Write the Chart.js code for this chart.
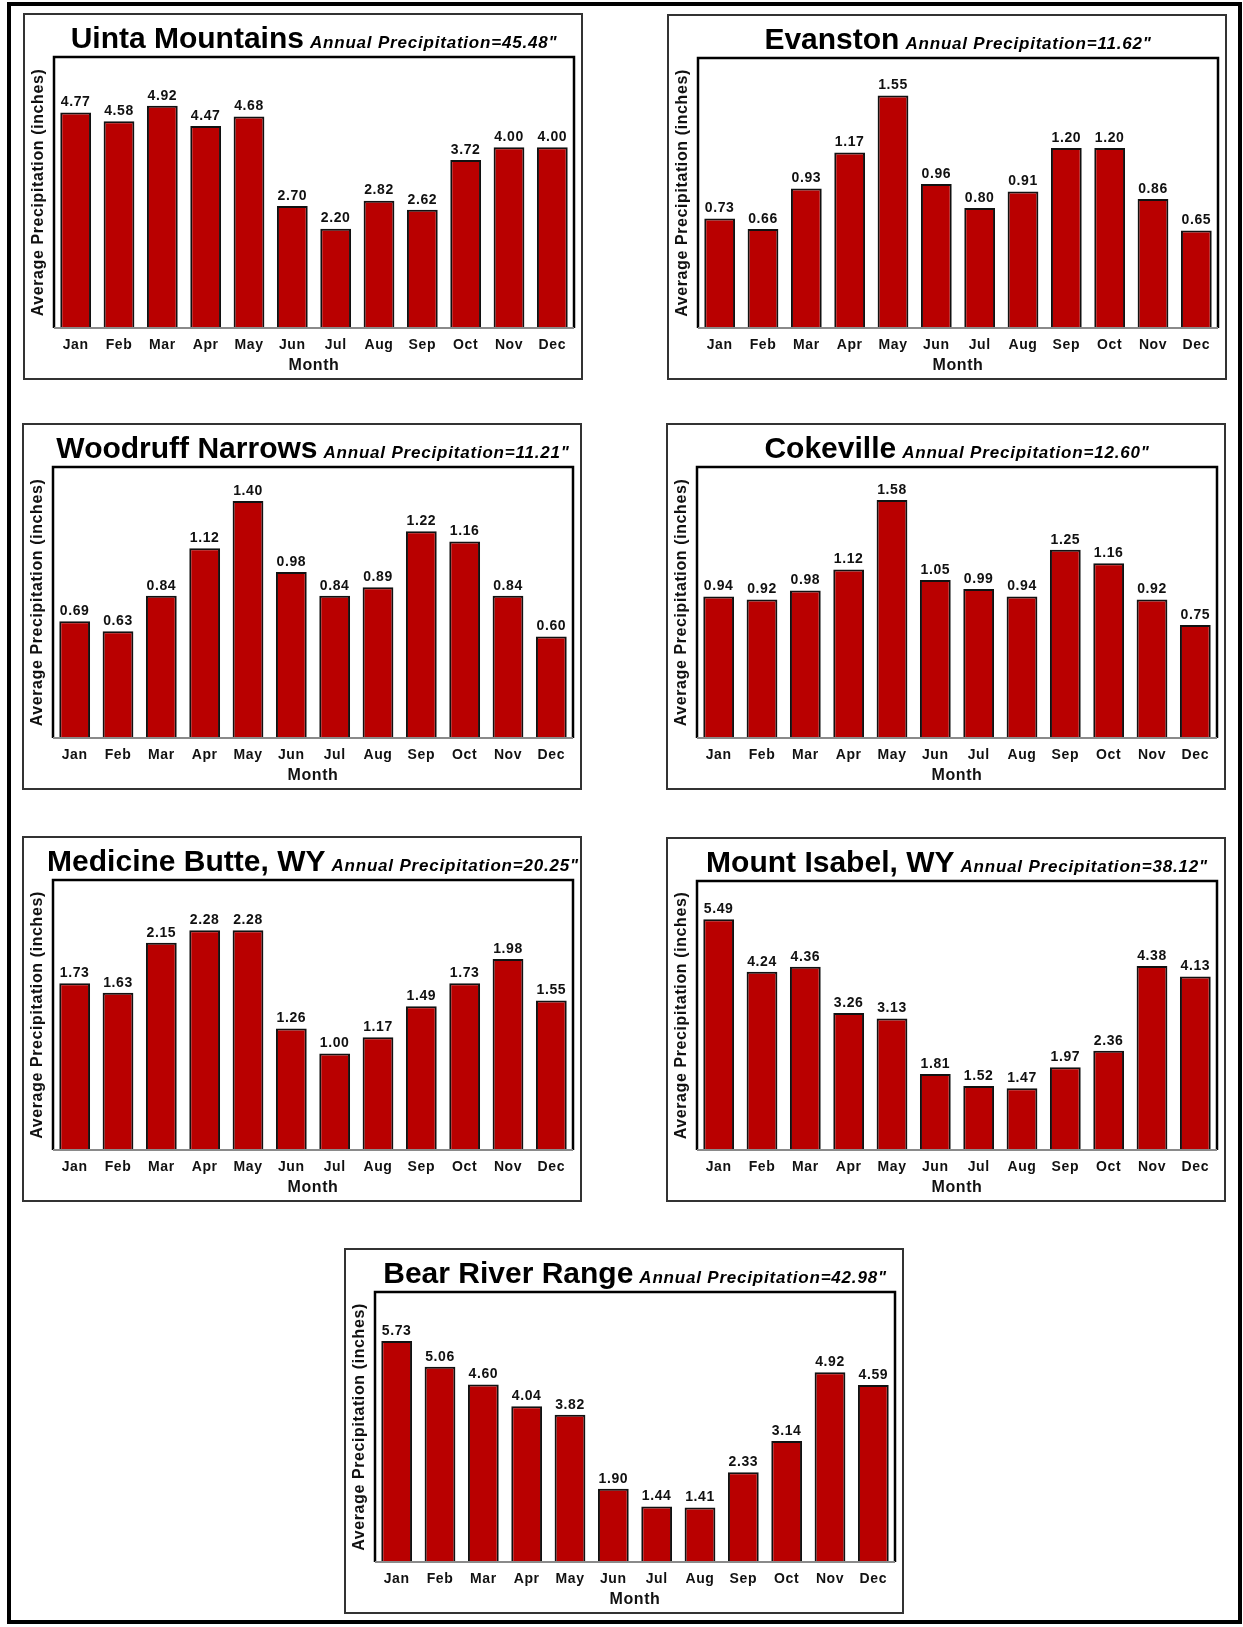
<!DOCTYPE html>
<html>
<head>
<meta charset="utf-8">
<script src="https://cdn.jsdelivr.net/npm/chart.js@4.4.1/dist/chart.umd.min.js"></script>
<style>
    body { margin: 0; background: #fff; }
    #page { position: relative; width: 1243px; height: 1627px; overflow: hidden; }
    #frame { position: absolute; left: 7px; top: 2px; width: 1235px; height: 1622px; border: 4px solid #000; box-sizing: border-box; }
    .panel { position: absolute; }
    .panel canvas { display: block; }
</style>
</head>
<body>
<div id="page">
    <div id="frame"></div>
</div>
<script>
// Average monthly precipitation (inches) per station
const months = ['Jan', 'Feb', 'Mar', 'Apr', 'May', 'Jun', 'Jul', 'Aug', 'Sep', 'Oct', 'Nov', 'Dec']

const stations = ['Uinta Mountains', 'Evanston', 'Woodruff Narrows', 'Cokeville', 'Medicine Butte, WY', 'Mount Isabel, WY', 'Bear River Range']
const annualTotals = ['45.48', '11.62', '11.21', '12.60', '20.25', '38.12', '42.98']

const uinta = [4.77, 4.58, 4.92, 4.47, 4.68, 2.70, 2.20, 2.82, 2.62, 3.72, 4.00, 4.00]
const evanston = [0.73, 0.66, 0.93, 1.17, 1.55, 0.96, 0.80, 0.91, 1.20, 1.20, 0.86, 0.65]
const woodruff = [0.69, 0.63, 0.84, 1.12, 1.40, 0.98, 0.84, 0.89, 1.22, 1.16, 0.84, 0.60]
const cokeville = [0.94, 0.92, 0.98, 1.12, 1.58, 1.05, 0.99, 0.94, 1.25, 1.16, 0.92, 0.75]
const medicineButte = [1.73, 1.63, 2.15, 2.28, 2.28, 1.26, 1.00, 1.17, 1.49, 1.73, 1.98, 1.55]
const mountIsabel = [5.49, 4.24, 4.36, 3.26, 3.13, 1.81, 1.52, 1.47, 1.97, 2.36, 4.38, 4.13]
const bearRiver = [5.73, 5.06, 4.60, 4.04, 3.82, 1.90, 1.44, 1.41, 2.33, 3.14, 4.92, 4.59]

const seriesList = [uinta, evanston, woodruff, cokeville, medicineButte, mountIsabel, bearRiver]
const axisMax = [6, 1.8, 1.6, 1.8, 2.8, 6.4, 7]

// panel boxes on the page: left, top, width, height
const panelBoxes = [
    [23, 13, 560, 367],
    [667, 14, 560, 366],
    [22, 423, 560, 367],
    [666, 423, 560, 367],
    [22, 836, 560, 366],
    [666, 837, 560, 365],
    [344, 1248, 560, 366]
]

const FONT = '"Liberation Sans", Arial, Helvetica, sans-serif'
const BAR_RED = '#b90000'

// plot area inside each panel
const PLOT_LEFT = 31
const PLOT_TOP = 44
const PLOT_RIGHT_GAP = 9
const X_AXIS_HEIGHT = 52

// white background, panel border, plot frame, value labels and the two-part title
const panelDecor = {
    id: 'panelDecor',
    beforeDraw(chart) {
        const ctx = chart.ctx
        ctx.save()
        ctx.fillStyle = '#fff'
        ctx.fillRect(0, 0, chart.width, chart.height)
        ctx.restore()
        ctx.letterSpacing = '0.6px'
    },
    afterDatasetsDraw(chart, args, opts) {
        const ctx = chart.ctx
        const a = chart.chartArea
        ctx.save()

        // values above the bars
        ctx.font = 'bold 14px ' + FONT
        ctx.fillStyle = '#111'
        ctx.textAlign = 'center'
        ctx.textBaseline = 'bottom'
        const values = chart.data.datasets[0].data
        chart.getDatasetMeta(0).data.forEach((bar, i) => {
            ctx.fillText(values[i].toFixed(2), bar.x, bar.y - 3)
        })

        // plot frame: black top/left/right, grey baseline
        ctx.strokeStyle = '#000'
        ctx.lineWidth = 2.5
        ctx.beginPath()
        ctx.moveTo(a.left, a.bottom)
        ctx.lineTo(a.left, a.top)
        ctx.lineTo(a.right, a.top)
        ctx.lineTo(a.right, a.bottom)
        ctx.stroke()
        ctx.strokeStyle = '#8a8a8a'
        ctx.lineWidth = 2
        ctx.beginPath()
        ctx.moveTo(a.left, a.bottom)
        ctx.lineTo(a.right, a.bottom)
        ctx.stroke()

        // panel border
        ctx.strokeStyle = '#333'
        ctx.lineWidth = 2
        ctx.strokeRect(1, 1, chart.width - 2, chart.height - 2)

        // title: station name + annual total
        const main = opts.name
        const sub = 'Annual Precipitation=' + opts.total + '"'
        const mainFont = 'bold 30px ' + FONT
        const subFont = 'italic bold 17px ' + FONT
        ctx.textAlign = 'left'
        ctx.textBaseline = 'alphabetic'
        ctx.fillStyle = '#000'
        ctx.letterSpacing = '0px'
        ctx.font = mainFont
        const w1 = ctx.measureText(main).width
        ctx.letterSpacing = '0.8px'
        ctx.font = subFont
        const w2 = ctx.measureText(sub).width
        const gap = 6
        const x0 = (a.left + a.right) / 2 - (w1 + gap + w2) / 2
        const base = a.top - 9
        ctx.letterSpacing = '0px'
        ctx.font = mainFont
        ctx.fillText(main, x0, base)
        ctx.letterSpacing = '0.8px'
        ctx.font = subFont
        ctx.fillText(sub, x0 + w1 + gap, base)
        ctx.restore()
    }
}

const page = document.getElementById('page')

seriesList.forEach((values, k) => {
    const [left, top, w, h] = panelBoxes[k]
    const wrap = document.createElement('div')
    wrap.className = 'panel'
    wrap.style.left = left + 'px'
    wrap.style.top = top + 'px'
    const canvas = document.createElement('canvas')
    canvas.width = w
    canvas.height = h
    wrap.appendChild(canvas)
    page.appendChild(wrap)

    new Chart(canvas, {
        type: 'bar',
        data: {
            labels: months,
            datasets: [{
                data: values,
                backgroundColor: BAR_RED,
                borderColor: '#111',
                borderWidth: 2,
                borderSkipped: 'bottom',
                barPercentage: 0.71,
                categoryPercentage: 1
            }]
        },
        options: {
            responsive: false,
            animation: false,
            events: [],
            layout: { padding: { top: PLOT_TOP, right: PLOT_RIGHT_GAP, left: 0, bottom: 0 } },
            plugins: {
                legend: { display: false },
                tooltip: { enabled: false },
                panelDecor: { name: stations[k], total: annualTotals[k] }
            },
            scales: {
                x: {
                    grid: { display: false, drawTicks: false },
                    border: { display: false },
                    ticks: { color: '#111', font: { family: FONT, size: 14, weight: 'bold' }, padding: 9, maxRotation: 0 },
                    title: { display: true, text: 'Month', color: '#111', font: { family: FONT, size: 16, weight: 'bold' }, padding: { top: 0, bottom: 5 } },
                    afterFit(scale) { scale.height = X_AXIS_HEIGHT }
                },
                y: {
                    min: 0,
                    max: axisMax[k],
                    grid: { display: false },
                    border: { display: false },
                    ticks: { display: false },
                    title: { display: true, text: 'Average Precipitation (inches)', color: '#111', font: { family: FONT, size: 16, weight: 'bold' }, padding: { top: 6, bottom: 0 } },
                    afterFit(scale) { scale.width = PLOT_LEFT }
                }
            }
        },
        plugins: [panelDecor]
    })
})
</script>
</body>
</html>
